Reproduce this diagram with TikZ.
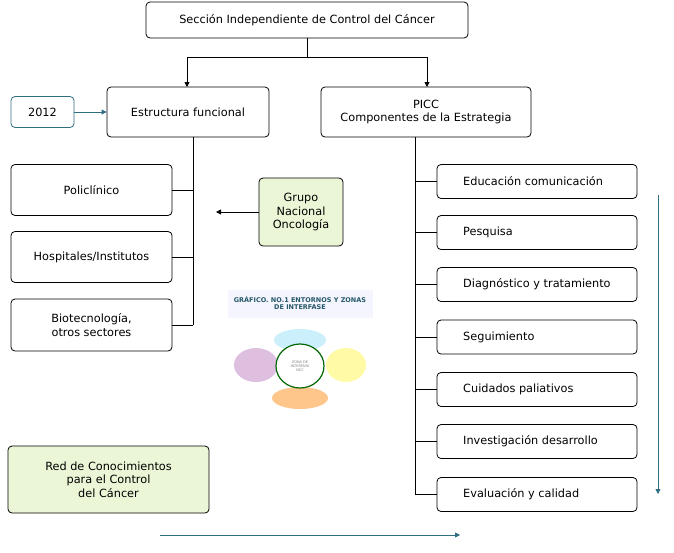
\documentclass[tikz,border=0pt]{standalone}
\usepackage{fontspec}
\setmainfont{DejaVu Sans}
\usetikzlibrary{arrows.meta}
\definecolor{teal1}{HTML}{2F6E80}
\definecolor{lgreen}{HTML}{EBF6D6}
\begin{document}
\begin{tikzpicture}[x=1pt,y=-1pt,
  box/.style={draw=black,rounded corners=4pt,line width=0.8pt,font=\fontsize{11.3}{13.3}\selectfont,align=center,inner sep=0pt},
  ln/.style={line width=0.8pt},
  arr/.style={ln,-{Triangle[length=5pt,width=5pt]}},
  tarr/.style={draw=teal1,line width=0.8pt,-{Triangle[length=5pt,width=5pt]}}]
\useasboundingbox (0,0) rectangle (674,552);
\node[box,minimum width=322pt,minimum height=36pt] (top) at (307,20) {Sección Independiente de Control del Cáncer};
\node[box,minimum width=162pt,minimum height=50pt] (ef) at (188,112) {Estructura funcional};
\node[box,minimum width=210pt,minimum height=50pt] (picc) at (426,112) {PICC\\Componentes de la Estrategia};
\node[box,draw=teal1,minimum width=63pt,minimum height=31pt] (y) at (42.5,112) {2012};
\draw[tarr] (y) -- (ef);
\coordinate (j) at (307,57);
\draw[ln] (top.south) -- (j);
\draw[arr] (187,57) -- (187,87);
\draw[arr] (427,57) -- (427,87);
\draw[ln] (187,57) -- (427,57);
% left
\node[box,minimum width=161pt,minimum height=51pt] (p1) at (91.5,190) {Policlínico};
\node[box,minimum width=161pt,minimum height=51pt] (p2) at (91.5,257) {Hospitales/Institutos};
\node[box,minimum width=161pt,minimum height=52pt] (p3) at (91.5,325) {Biotecnología,\\otros sectores};
\coordinate (lb) at (193,325);
\draw[ln] (193,137) -- (lb);
\draw[ln] (p1.east) -- (193,190);
\draw[ln] (p2.east) -- (193,257);
\draw[ln] (p3.east) -- (lb);
\node[box,fill=lgreen,minimum width=84pt,minimum height=68pt] (g) at (301,212) {Grupo\\Nacional\\Oncología};
\coordinate (ga) at (216,212);
\draw[arr] (g.west) -- (ga);
% graphic
\begin{scope}
\fill[blue!4] (228,290) rectangle (373,318);
\node[font=\fontsize{6.5}{7.5}\selectfont\bfseries,text=teal1!80!black,align=center] (gt) at (300,303) {GRÁFICO. NO.1 ENTORNOS Y ZONAS\\DE INTERFASE};
\fill[cyan!20] (300,340) ellipse (26pt and 11pt);
\fill[violet!25] (256,365) ellipse (22pt and 17pt);
\fill[yellow!35] (346,365) ellipse (20pt and 17pt);
\fill[orange!45] (300,398) ellipse (28pt and 11pt);
\draw[green!40!black,line width=1.2pt,fill=white] (300,366) ellipse (24pt and 22pt);
\node[font=\fontsize{3.5}{4}\selectfont,text=gray,align=center] (gc) at (300,366) {ZONA DE\\INTERFASE\\NCC};
\end{scope}
\node[box,fill=lgreen,minimum width=201pt,minimum height=67pt] (red) at (108.5,479.5) {Red de Conocimientos\\para el Control\\del Cáncer};
\coordinate (b1) at (160,535); \coordinate (b2) at (460,535);
\draw[tarr] (b1) -- (b2);
% right
\coordinate (rt) at (415,137); \coordinate (rb) at (415,494.5);
\draw[ln] (rt) -- (rb);
\foreach \n/\yy/\t in {r1/181.5/Educación comunicación, r2/232.5/Pesquisa, r3/284.5/Diagnóstico y tratamiento, r4/337/Seguimiento, r5/389.5/Cuidados paliativos, r6/441.5/Investigación desarrollo, r7/494.5/Evaluación y calidad}{
  \node[box,minimum width=200pt,minimum height=34pt] (\n) at (537,\yy) {};
  \node[font=\fontsize{11.3}{13.3}\selectfont,anchor=west,inner sep=0pt] at (463,\yy) {\t};
  \draw[ln] (415,\yy) -- (\n.west);
}
\coordinate (v1) at (658,195); \coordinate (v2) at (658,494);
\draw[tarr] (v1) -- (v2);
\end{tikzpicture}
\end{document}
